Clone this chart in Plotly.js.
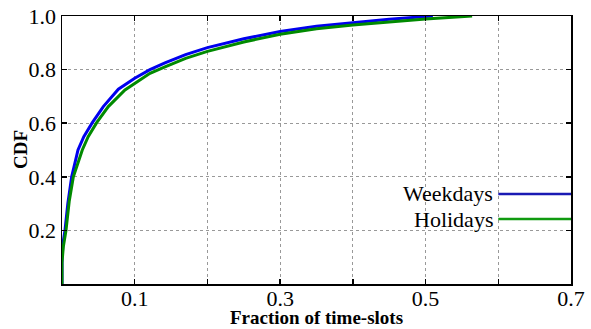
<!DOCTYPE html>
<html><head><meta charset="utf-8">
<script src="https://cdn.plot.ly/plotly-3.0.1.min.js"></script>
<style>html,body{margin:0;padding:0;background:#fff}#chart{width:591px;height:329px}</style>
</head><body><div id="chart"></div>
<script>
const weekdaysX = [0, 0, 0.0018, 0.0041, 0.008, 0.0133, 0.022, 0.03, 0.0417, 0.0568, 0.0775, 0.1, 0.121, 0.1416, 0.17, 0.2, 0.25, 0.3, 0.35, 0.4, 0.45, 0.51];
const weekdaysY = [0, 0.1, 0.16, 0.2, 0.3, 0.4, 0.5, 0.55, 0.602, 0.662, 0.727, 0.768, 0.8, 0.825, 0.856, 0.882, 0.915, 0.942, 0.962, 0.976, 0.988, 1.0];
const holidaysX = [0, 0, 0.0018, 0.0055, 0.01, 0.0156, 0.0279, 0.036, 0.0477, 0.0637, 0.0866, 0.1, 0.121, 0.1416, 0.17, 0.2, 0.25, 0.3, 0.35, 0.4, 0.45, 0.5, 0.564];
const holidaysY = [0, 0.08, 0.139, 0.2, 0.31, 0.4, 0.5, 0.55, 0.602, 0.662, 0.724, 0.749, 0.786, 0.81, 0.842, 0.868, 0.903, 0.932, 0.952, 0.966, 0.978, 0.989, 1.0];
const xTickVals = [0.1, 0.2, 0.3, 0.4, 0.5, 0.6, 0.7];
const xTickText = ['0.1', '', '0.3', '', '0.5', '', '0.7'];
const yTickVals = [0.2, 0.4, 0.6, 0.8, 1.0];
const yTickText = ['0.2', '0.4', '0.6', '0.8', '1.0'];
const seriesNames = ['Weekdays', 'Holidays'];
const seriesColors = ['#0000ee', '#008a00'];
const legendColors = ['#1a1ab4', '#109a10'];
const legendY = [0.336, 0.2425];
const xTitle = 'Fraction of time-slots';
const yTitle = 'CDF';

const font = '"Liberation Serif", "Times New Roman", serif';
const traces = [
  {x: weekdaysX, y: weekdaysY, mode: 'lines', line: {color: seriesColors[0], width: 3}, name: seriesNames[0], showlegend: false},
  {x: holidaysX, y: holidaysY, mode: 'lines', line: {color: seriesColors[1], width: 3}, name: seriesNames[1], showlegend: false}
];
const shapes = legendY.map((y, i) => ({type: 'line', xref: 'x', yref: 'y', x0: 0.6, x1: 0.7, y0: y, y1: y, line: {color: legendColors[i], width: 2.5}}));
const annotations = legendY.map((y, i) => ({xref: 'x', yref: 'y', x: 0.596, y: y, text: seriesNames[i], showarrow: false, xanchor: 'right', yanchor: 'middle', font: {family: font, size: 22, color: '#000'}}));
annotations.push({xref: 'paper', yref: 'paper', x: 0.5, y: -0.125, text: '<b>' + xTitle + '</b>', showarrow: false, xanchor: 'center', yanchor: 'middle', font: {family: font, size: 19, color: '#000'}});
annotations.push({xref: 'paper', yref: 'paper', x: -0.0825, y: 0.5, text: '<b>' + yTitle + '</b>', textangle: -90, showarrow: false, xanchor: 'center', yanchor: 'middle', font: {family: font, size: 19, color: '#000'}});
const tickFont = {family: font, size: 22, color: '#000'};
const layout = {
  width: 591, height: 329,
  margin: {l: 62, r: 20, t: 16, b: 45},
  font: {family: font, size: 22, color: '#000'},
  xaxis: {range: [0, 0.7], tickmode: 'array', tickvals: xTickVals, ticktext: xTickText, tickfont: tickFont, ticklabelstandoff: -6,
    showline: true, linecolor: '#000', linewidth: 1.5, mirror: 'ticks',
    ticks: 'inside', ticklen: 5, tickwidth: 1.5, tickcolor: '#000',
    showgrid: true, gridcolor: '#999', griddash: 'dot', gridwidth: 1, zeroline: false},
  yaxis: {range: [0, 1.0], tickmode: 'array', tickvals: yTickVals, ticktext: yTickText, tickfont: tickFont,
    showline: true, linecolor: '#000', linewidth: 1.5, mirror: 'ticks',
    ticks: 'inside', ticklen: 5, tickwidth: 1.5, tickcolor: '#000',
    showgrid: true, gridcolor: '#999', griddash: 'dot', gridwidth: 1, zeroline: false},
  shapes: shapes,
  annotations: annotations
};
Plotly.newPlot('chart', traces, layout, {displayModeBar: false, staticPlot: true});
</script></body></html>
